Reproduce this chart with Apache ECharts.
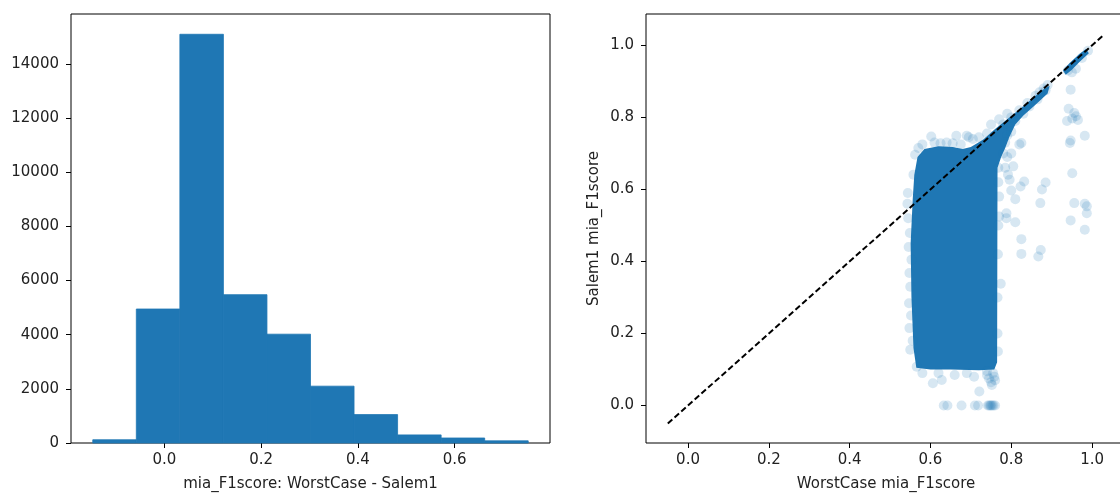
<!DOCTYPE html>
<html>
<head>
<meta charset="utf-8">
<script src="https://cdn.jsdelivr.net/npm/echarts@6/dist/echarts.min.js"></script>
<style>
  html, body { margin: 0; padding: 0; background: #fff; }
  #main { width: 1120px; height: 496px; }
</style>
</head>
<body>
<div id="main"></div>
<script>
// histogram: bin edges and counts
var binEdges = [-0.148, -0.058, 0.032, 0.122, 0.212, 0.302, 0.392, 0.482, 0.572, 0.662, 0.752];
var binCounts = [120, 4950, 15100, 5480, 4020, 2100, 1050, 300, 185, 80];
var histTicksX = [0, 0.2, 0.4, 0.6];
var histTicksY = [0, 2000, 4000, 6000, 8000, 10000, 12000, 14000];

// scatter: saturated dense region (outline in data units)
var denseCore = [
  [0.556, 0.57], [0.560, 0.64], [0.568, 0.69], [0.585, 0.712], [0.62, 0.72], [0.655, 0.718],
  [0.68, 0.712], [0.70, 0.718], [0.73, 0.738], [0.76, 0.768], [0.79, 0.795], [0.82, 0.822],
  [0.85, 0.85], [0.88, 0.878], [0.895, 0.888], [0.89, 0.866], [0.86, 0.835], [0.83, 0.805],
  [0.81, 0.78], [0.795, 0.745], [0.785, 0.715], [0.775, 0.69], [0.766, 0.66], [0.765, 0.12],
  [0.758, 0.10], [0.72, 0.098], [0.65, 0.10], [0.60, 0.10], [0.565, 0.105], [0.558, 0.16],
  [0.553, 0.3], [0.551, 0.45]
];
var denseTop = [
  [0.928, 0.93], [0.945, 0.952], [0.97, 0.977], [0.985, 0.99], [0.992, 0.978], [0.97, 0.955],
  [0.95, 0.932], [0.935, 0.918]
];
// scatter: single points around the dense region
var scatterPoints = [
  [0.602, 0.747], [0.664, 0.749], [0.69, 0.749], [0.695, 0.745], [0.58, 0.725], [0.57, 0.715],
  [0.61, 0.73], [0.625, 0.728], [0.64, 0.73], [0.655, 0.728], [0.675, 0.725], [0.705, 0.74],
  [0.72, 0.745], [0.74, 0.755], [0.75, 0.78], [0.77, 0.795], [0.79, 0.81],
  [0.562, 0.696], [0.558, 0.641], [0.544, 0.59], [0.549, 0.479], [0.553, 0.405], [0.548, 0.368],
  [0.547, 0.284], [0.548, 0.215], [0.566, 0.108], [0.55, 0.155], [0.545, 0.52], [0.543, 0.56],
  [0.546, 0.44], [0.55, 0.33], [0.552, 0.25], [0.556, 0.18],
  [0.606, 0.062], [0.628, 0.071], [0.721, 0.039], [0.752, 0.057], [0.708, 0.08], [0.58, 0.09],
  [0.62, 0.09], [0.66, 0.085], [0.69, 0.09], [0.74, 0.085], [0.76, 0.07], [0.755, 0.09],
  [0.745, 0.075], [0.75, 0.065], [0.758, 0.08], [0.74, 0.095],
  [0.633, 0], [0.642, 0], [0.677, 0], [0.71, 0], [0.718, 0], [0.742, 0], [0.745, 0], [0.748, 0],
  [0.75, 0], [0.753, 0], [0.756, 0], [0.76, 0],
  [0.774, 0.338], [0.77, 0.525], [0.768, 0.62], [0.768, 0.5], [0.767, 0.42], [0.766, 0.3],
  [0.766, 0.2], [0.767, 0.15], [0.768, 0.66], [0.77, 0.58],
  [0.825, 0.729], [0.805, 0.664], [0.792, 0.641], [0.796, 0.627], [0.832, 0.622], [0.823, 0.608],
  [0.80, 0.597], [0.81, 0.573], [0.788, 0.534], [0.788, 0.52], [0.81, 0.509], [0.825, 0.462],
  [0.825, 0.421], [0.873, 0.432], [0.867, 0.414], [0.872, 0.562], [0.876, 0.60], [0.885, 0.619],
  [0.947, 0.877], [0.942, 0.824], [0.956, 0.812], [0.96, 0.803], [0.938, 0.79], [0.951, 0.797],
  [0.965, 0.793], [0.982, 0.749], [0.947, 0.736], [0.945, 0.729], [0.951, 0.645], [0.956, 0.562],
  [0.982, 0.56], [0.987, 0.553], [0.987, 0.534], [0.947, 0.514], [0.982, 0.488],
  [0.78, 0.78], [0.80, 0.80], [0.82, 0.82], [0.84, 0.84], [0.86, 0.86], [0.87, 0.87],
  [0.88, 0.88], [0.89, 0.89], [0.885, 0.875], [0.865, 0.85], [0.845, 0.83], [0.83, 0.81],
  [0.81, 0.79], [0.80, 0.76], [0.79, 0.75], [0.785, 0.73], [0.82, 0.725], [0.80, 0.70],
  [0.79, 0.69], [0.78, 0.70], [0.785, 0.66],
  [0.96, 0.935], [0.95, 0.925], [0.94, 0.93], [0.975, 0.965], [0.99, 0.985]
];
var diagLine = [[-0.05, -0.05], [1.03, 1.03]];
var scatterTicks = [0, 0.2, 0.4, 0.6, 0.8, 1.0];

var chart = echarts.init(document.getElementById('main'));

var blue = '#1f77b4';
var txt = { color: '#222', fontFamily: 'DejaVu Sans', fontSize: 15 };

function fmt1(v) { return v.toFixed(1); }

function polygonItem(points) {
  return function (params, api) {
    return {
      type: 'polygon',
      shape: { points: points.map(function (p) { return api.coord(p); }) },
      style: { fill: blue }
    };
  };
}

function axisBase(ticks, formatter, margin) {
  return {
    type: 'value',
    splitLine: { show: false },
    axisLine: { show: false, onZero: false },
    axisTick: { show: true, inside: false, length: 5, customValues: ticks,
      lineStyle: { color: '#000', width: 1 } },
    axisLabel: Object.assign({ customValues: ticks, formatter: formatter, margin: margin }, txt),
    nameTextStyle: txt,
    nameLocation: 'middle'
  };
}

var option = {
  animation: false,
  backgroundColor: '#fff',
  grid: [
    { left: 71, top: 14, width: 479, height: 429, show: true, borderColor: '#000', borderWidth: 1,
      outerBoundsMode: 'none' },
    { left: 646, top: 14, width: 480, height: 429, show: true, borderColor: '#000', borderWidth: 1,
      outerBoundsMode: 'none' }
  ],
  xAxis: [
    Object.assign(axisBase(histTicksX, fmt1, 10), {
      gridIndex: 0, min: -0.193, max: 0.797,
      name: 'mia_F1score: WorstCase - Salem1', nameGap: 34
    }),
    Object.assign(axisBase(scatterTicks, fmt1, 10), {
      gridIndex: 1, min: -0.104, max: 1.084,
      name: 'WorstCase mia_F1score', nameGap: 34
    })
  ],
  yAxis: [
    Object.assign(axisBase(histTicksY, function (v) { return String(v); }, 12), {
      gridIndex: 0, min: 0, max: 15849
    }),
    Object.assign(axisBase(scatterTicks, fmt1, 12), {
      gridIndex: 1, min: -0.104, max: 1.087,
      name: 'Salem1 mia_F1score', nameGap: 44
    })
  ],
  series: [
    {
      type: 'custom',
      xAxisIndex: 0, yAxisIndex: 0,
      data: binCounts.map(function (c, i) { return [binEdges[i], binEdges[i + 1], c]; }),
      encode: { x: [0, 1], y: 2 },
      renderItem: function (params, api) {
        var p0 = api.coord([api.value(0), api.value(2)]);
        var p1 = api.coord([api.value(1), 0]);
        return {
          type: 'rect',
          shape: { x: p0[0], y: p0[1], width: p1[0] - p0[0], height: p1[1] - p0[1] },
          style: { fill: blue, stroke: blue, lineWidth: 0.8 }
        };
      }
    },
    {
      type: 'custom', xAxisIndex: 1, yAxisIndex: 1,
      data: [denseCore[0]], renderItem: polygonItem(denseCore), z: 2
    },
    {
      type: 'custom', xAxisIndex: 1, yAxisIndex: 1,
      data: [denseTop[0]], renderItem: polygonItem(denseTop), z: 2
    },
    {
      type: 'scatter', xAxisIndex: 1, yAxisIndex: 1,
      data: scatterPoints, symbolSize: 10,
      itemStyle: { color: 'rgba(31,119,180,0.22)' }, z: 3
    },
    {
      type: 'line', xAxisIndex: 1, yAxisIndex: 1,
      data: diagLine, symbol: 'none', z: 5,
      lineStyle: { color: '#000', width: 2, type: [6, 3] }
    }
  ]
};
chart.setOption(option);
</script>
</body>
</html>
